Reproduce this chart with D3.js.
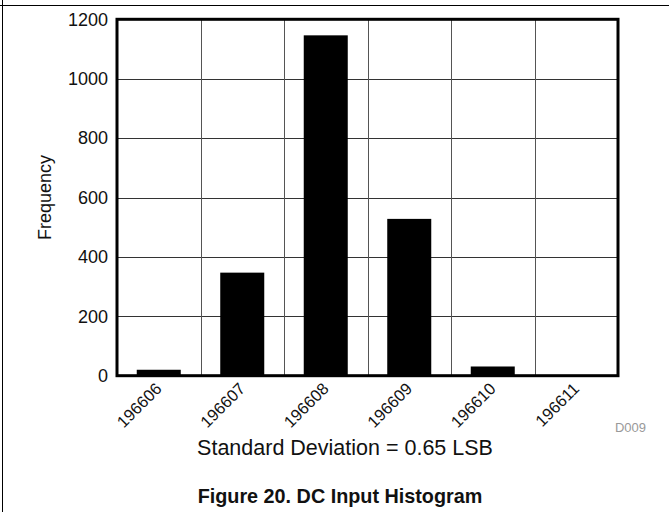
<!DOCTYPE html>
<html>
<head>
<meta charset="utf-8">
<script src="https://cdn.jsdelivr.net/npm/d3@7"></script>
<style>
  body { margin: 0; background: #fff; }
  svg { display: block; font-family: "Liberation Sans", Arial, sans-serif; }
</style>
</head>
<body>
<svg width="669" height="512"></svg>
<script>
// histogram bins (output codes) and counts
var codes = ['196606', '196607', '196608', '196609', '196610', '196611'];
var counts = [20, 347, 1146, 528, 31, 2];
var yTicks = [0, 200, 400, 600, 800, 1000, 1200];

function main() {
	var svg = d3.select('svg'),
	width = +svg.attr('width'),
	height = +svg.attr('height');

	var left = 117, right = 618, top = 19.3, bottom = 375.7;

	var data = codes.map(function(c, i) { return { code: c, n: counts[i] }; });

	var x = d3.scaleBand().domain(codes).range([left, right]).padding(0);
	var y = d3.scaleLinear().domain([0, 1200]).range([bottom, top]);
	var barW = x.bandwidth() * 0.527;

	// outer border of the figure cell
	svg.append('line').attr('x1', 0).attr('x2', width).attr('y1', 5.5).attr('y2', 5.5)
		.attr('stroke', '#000').attr('stroke-width', 1);
	svg.append('line').attr('x1', 2.5).attr('x2', 2.5).attr('y1', 0).attr('y2', height)
		.attr('stroke', '#000').attr('stroke-width', 1);

	// grid
	svg.append('g').selectAll('line.h')
		.data(yTicks.slice(1, -1))
		.enter().append('line')
		.attr('x1', left).attr('x2', right)
		.attr('y1', function(d) { return Math.round(y(d)) + 0.5; })
		.attr('y2', function(d) { return Math.round(y(d)) + 0.5; })
		.attr('stroke', '#333').attr('stroke-width', 1);

	svg.append('g').selectAll('line.v')
		.data(codes.slice(1))
		.enter().append('line')
		.attr('x1', function(d) { return Math.round(x(d)) + 0.5; })
		.attr('x2', function(d) { return Math.round(x(d)) + 0.5; })
		.attr('y1', top).attr('y2', bottom)
		.attr('stroke', '#555').attr('stroke-width', 1);

	// bars
	svg.append('g').selectAll('rect')
		.data(data)
		.enter().append('rect')
		.attr('x', function(d) { return x(d.code) + (x.bandwidth() - barW) / 2; })
		.attr('width', barW)
		.attr('y', function(d) { return y(d.n); })
		.attr('height', function(d) { return bottom - y(d.n); })
		.attr('fill', '#000');

	// plot frame
	svg.append('rect')
		.attr('x', left).attr('y', top)
		.attr('width', right - left).attr('height', bottom - top)
		.attr('fill', 'none').attr('stroke', '#000').attr('stroke-width', 3);

	// y axis labels
	var yAxis = svg.append('g')
		.attr('transform', 'translate(' + left + ',0)')
		.call(d3.axisLeft(y).tickValues(yTicks).tickFormat(d3.format('d')).tickSize(0).tickPadding(9));
	yAxis.select('.domain').remove();
	yAxis.selectAll('text')
		.attr('font-size', 18).attr('font-family', '"Liberation Sans", Arial, sans-serif')
		.attr('fill', '#111');

	// x axis labels, rotated
	var xAxis = svg.append('g')
		.attr('transform', 'translate(0,' + bottom + ')')
		.call(d3.axisBottom(x).tickSize(0));
	xAxis.select('.domain').remove();
	xAxis.selectAll('text')
		.attr('x', 0).attr('y', 0).attr('dy', 0)
		.attr('text-anchor', 'end')
		.attr('transform', 'translate(4,14) rotate(-45)')
		.attr('font-size', 16.5).attr('font-family', '"Liberation Sans", Arial, sans-serif')
		.attr('fill', '#111');

	// titles
	svg.append('text')
		.attr('transform', 'translate(51,' + ((top + bottom) / 2) + ') rotate(-90)')
		.attr('text-anchor', 'middle')
		.attr('font-size', 18)
		.attr('fill', '#111')
		.text('Frequency');

	svg.append('text')
		.attr('x', 345).attr('y', 455)
		.attr('text-anchor', 'middle')
		.attr('font-size', 21.5)
		.attr('fill', '#111')
		.text('Standard Deviation = 0.65 LSB');

	svg.append('text')
		.attr('x', 646).attr('y', 432)
		.attr('text-anchor', 'end')
		.attr('font-size', 13)
		.attr('fill', '#999')
		.text('D009');

	svg.append('text')
		.attr('x', 340).attr('y', 503)
		.attr('text-anchor', 'middle')
		.attr('font-size', 19.8)
		.attr('font-weight', 'bold')
		.attr('fill', '#111')
		.text('Figure 20. DC Input Histogram');
}
main();
</script>
</body>
</html>
